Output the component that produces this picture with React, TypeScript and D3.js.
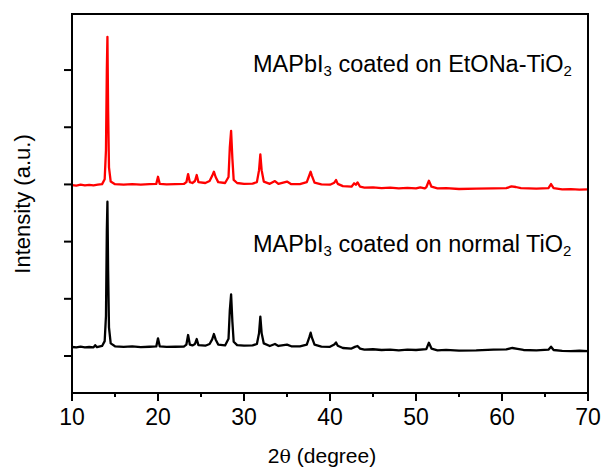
import React from "react";
import * as d3 from "d3";

// 2θ (degree), intensity (arb. counts) — normal TiO2 (black)
const normalData: [number, number][] = [
  [10.0, 157], [10.5, 150], [11.0, 162], [11.5, 150], [12.0, 157], [12.5, 150], [12.7, 190], [12.9, 155],
  [13.5, 175], [13.8, 260], [13.95, 700], [14.05, 2200], [14.12, 2697], [14.2, 1500], [14.3, 500], [14.5, 220],
  [15.0, 170], [16.0, 160], [17.0, 168], [18.0, 155], [19.0, 162], [19.8, 168], [20.0, 309], [20.2, 170],
  [21.0, 160], [22.0, 162], [23.0, 165], [23.3, 200], [23.5, 367], [23.7, 200], [24.0, 185], [24.3, 210],
  [24.5, 297], [24.7, 190], [25.5, 180], [26.0, 210], [26.3, 290], [26.5, 385], [26.7, 290], [27.0, 200],
  [27.8, 185], [28.2, 300], [28.35, 800], [28.5, 1079], [28.65, 600], [28.8, 250], [29.2, 190], [30.0, 180],
  [31.0, 185], [31.5, 210], [31.75, 400], [31.9, 687], [32.05, 400], [32.3, 220], [33.0, 175], [33.6, 210],
  [34.0, 175], [35.0, 200], [35.5, 170], [36.5, 170], [37.3, 200], [37.6, 330], [37.75, 407], [37.9, 320],
  [38.2, 200], [39.0, 165], [40.0, 160], [40.5, 200], [40.7, 236], [40.9, 180], [41.5, 140], [42.5, 130],
  [42.9, 160], [43.2, 175], [43.5, 130], [44.0, 110], [45.0, 118], [46.0, 105], [47.0, 112], [48.0, 100],
  [49.0, 110], [50.0, 105], [51.2, 120], [51.5, 232], [51.8, 130], [52.5, 100], [53.5, 108], [55.0, 95],
  [57.0, 100], [59.0, 112], [60.5, 115], [61.2, 140], [61.8, 125], [62.5, 105], [64.0, 100], [65.4, 110],
  [65.7, 163], [66.0, 105], [67.0, 90], [68.0, 85], [69.0, 92], [70.0, 85],
];

// EtONa-TiO2 (red), stacked above
const etonaData: [number, number][] = [
  [10.0, 2989], [10.5, 2980], [11.0, 2995], [11.5, 2985], [12.0, 2992], [12.5, 2985], [13.0, 2995],
  [13.5, 3005], [13.8, 3090], [13.95, 3600], [14.05, 5000], [14.12, 5581], [14.2, 4300], [14.3, 3300], [14.5, 3050],
  [15.0, 3005], [16.0, 2995], [17.0, 3005], [18.0, 2995], [19.0, 3005], [19.8, 3010], [20.0, 3134], [20.2, 3010],
  [21.0, 3000], [22.0, 3005], [23.0, 3008], [23.3, 3040], [23.5, 3181], [23.7, 3040], [24.0, 3025], [24.3, 3060],
  [24.5, 3164], [24.7, 3040], [25.5, 3025], [26.0, 3060], [26.3, 3150], [26.5, 3222], [26.7, 3130], [27.0, 3040],
  [27.8, 3025], [28.2, 3130], [28.35, 3650], [28.5, 3938], [28.65, 3450], [28.8, 3080], [29.2, 3025], [30.0, 3010],
  [31.0, 3015], [31.5, 3040], [31.75, 3250], [31.9, 3526], [32.05, 3250], [32.3, 3050], [33.0, 3010], [33.6, 3059],
  [34.0, 3010], [35.0, 3050], [35.5, 3005], [36.5, 3005], [37.3, 3040], [37.6, 3160], [37.75, 3222], [37.9, 3150],
  [38.2, 3030], [39.0, 3000], [40.0, 2995], [40.5, 3030], [40.7, 3076], [40.9, 3010], [41.5, 2970], [42.5, 2960],
  [42.8, 3019], [43.0, 2995], [43.2, 3036], [43.5, 2960], [44.0, 2945], [45.0, 2950], [46.0, 2935], [47.0, 2945],
  [48.0, 2930], [49.0, 2940], [50.0, 2930], [50.5, 2949], [51.0, 2930], [51.2, 2950], [51.5, 3064], [51.8, 2960],
  [52.5, 2930], [53.5, 2935], [55.0, 2920], [57.0, 2925], [59.0, 2930], [60.5, 2935], [61.1, 2965], [61.6, 2955],
  [62.2, 2935], [64.0, 2925], [65.4, 2935], [65.7, 3007], [66.0, 2935], [67.0, 2915], [68.0, 2918], [69.0, 2910],
  [70.0, 2914],
];

const xTicks = [10, 20, 30, 40, 50, 60, 70];
const xMinorTicks = [15, 25, 35, 45, 55, 65];
const yTicks = [0, 1000, 2000, 3000, 4000, 5000];

const W = 605;
const H = 471;
const M = { left: 72, right: 588, top: 14, bottom: 393 };
const FONT = "'Liberation Sans', Arial, sans-serif";

export default function App() {
  const x = d3.scaleLinear().domain([10, 70]).range([M.left, M.right]);
  const y = d3.scaleLinear().domain([-647, 5980]).range([M.bottom, M.top]);
  const line = d3
    .line<[number, number]>()
    .x((d) => x(d[0]))
    .y((d) => y(d[1]));

  return (
    <svg
      width={W}
      height={H}
      style={{ position: "absolute", left: 0, top: 0, background: "#fff" }}
      fontFamily={FONT}
    >
      <rect x={0} y={0} width={W} height={H} fill="#fff" />
      <path d={line(normalData) || ""} fill="none" stroke="#000" strokeWidth={2.3} strokeLinejoin="round" />
      <path d={line(etonaData) || ""} fill="none" stroke="#ff0000" strokeWidth={2.3} strokeLinejoin="round" />

      {/* frame */}
      <rect
        x={M.left}
        y={M.top}
        width={M.right - M.left}
        height={M.bottom - M.top}
        fill="none"
        stroke="#000"
        strokeWidth={2}
      />

      {/* x ticks */}
      {xTicks.map((t) => (
        <g key={"xt" + t}>
          <line x1={x(t)} x2={x(t)} y1={M.bottom} y2={M.bottom + 8} stroke="#000" strokeWidth={2} />
          <text x={x(t)} y={425} textAnchor="middle" fontSize={23} fill="#000">
            {t}
          </text>
        </g>
      ))}
      {xMinorTicks.map((t) => (
        <line key={"xm" + t} x1={x(t)} x2={x(t)} y1={M.bottom} y2={M.bottom + 4} stroke="#000" strokeWidth={2} />
      ))}

      {/* y ticks */}
      {yTicks.map((t) => (
        <line key={"yt" + t} x1={M.left - 8} x2={M.left} y1={y(t)} y2={y(t)} stroke="#000" strokeWidth={2} />
      ))}

      {/* axis titles */}
      <text x={322} y={463} textAnchor="middle" fontSize={21} fill="#000">
        2<tspan fontFamily="'DejaVu Serif', serif" fontSize={19}>θ</tspan> (degree)
      </text>
      <text
        transform={`translate(30,204) rotate(-90)`}
        textAnchor="middle"
        fontSize={22}
        fill="#000"
      >
        Intensity (a.u.)
      </text>

      {/* annotations */}
      <text x={253} y={71.7} fontSize={23.5} fill="#000">
        MAPbI<tspan fontSize={15} dy={4}>3</tspan>
        <tspan dy={-4}> coated on EtONa-TiO</tspan>
        <tspan fontSize={15} dy={4}>2</tspan>
      </text>
      <text x={253} y={251.7} fontSize={23.5} fill="#000">
        MAPbI<tspan fontSize={15} dy={4}>3</tspan>
        <tspan dy={-4}> coated on normal TiO</tspan>
        <tspan fontSize={15} dy={4}>2</tspan>
      </text>
    </svg>
  );
}
